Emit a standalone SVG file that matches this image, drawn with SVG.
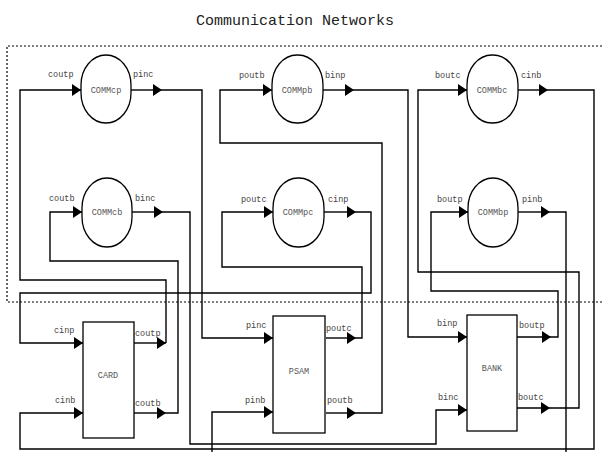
<svg xmlns="http://www.w3.org/2000/svg" width="602" height="452" viewBox="0 0 602 452">
<style>
.bg{fill:#fff}
.title{font-family:"Liberation Mono","DejaVu Sans Mono",monospace;font-size:15px;fill:#222}
.lbl{font-family:"Liberation Mono","DejaVu Sans Mono",monospace;font-size:8.5px;fill:#444}
.nm{font-family:"Liberation Mono","DejaVu Sans Mono",monospace;font-size:8.5px;fill:#555;text-anchor:middle}
.shape{fill:#fff;stroke:#000;stroke-width:1.3}
.w{fill:none;stroke:#000;stroke-width:1.4}
.a{fill:none;stroke:#000;stroke-width:1.4;marker-end:url(#ah)}
.frame{fill:none;stroke:#000;stroke-width:1.2;stroke-dasharray:2,2}
</style>
<defs>
<marker id="ah" markerUnits="userSpaceOnUse" markerWidth="10" markerHeight="12" viewBox="0 0 10 12" refX="9" refY="6" orient="auto">
<path d="M0,0 L9,6 L0,12 Z" fill="#000"/>
</marker>
</defs>
<rect class="bg" width="602" height="452"/>
<text class="title" x="295" y="25" text-anchor="middle">Communication Networks</text>
<path class="frame" d="M602,46 H7 V302 H602"/>

<g id="connectors">
<!-- CARD coutp -> COMMcp -->
<path class="a" d="M134,343 H166"/>
<path class="a" d="M166,343 V280 H20 V90 H81"/>
<!-- COMMcp pinc -> PSAM -->
<path class="a" d="M131,90 H162"/>
<path class="a" d="M162,90 H202 V338 H273"/>
<!-- CARD coutb -> COMMcb -->
<path class="a" d="M134,413 H166"/>
<path class="a" d="M166,413 H178 V261 H50 V212 H82"/>
<!-- COMMcb binc -> BANK -->
<path class="a" d="M132,212 H163"/>
<path class="a" d="M163,212 H190 V444 H436 V410 H467"/>
<!-- PSAM poutb -> COMMpb -->
<path class="a" d="M326,413 H356"/>
<path class="a" d="M356,413 H382 V143 H220 V90 H272"/>
<!-- COMMpb binp -> BANK -->
<path class="a" d="M323,90 H354"/>
<path class="a" d="M354,90 H408 V337 H467"/>
<!-- BANK boutc -> COMMbc -->
<path class="a" d="M517,408 H550"/>
<path class="a" d="M550,408 H579 V272 H418 V90 H467"/>
<!-- COMMbc cinb -> CARD -->
<path class="a" d="M518,90 H548"/>
<path class="a" d="M548,90 H594 V449 H20 V413 H83"/>
<!-- PSAM poutc -> COMMpc -->
<path class="a" d="M326,338 H356"/>
<path class="a" d="M356,338 H362 V267 H222 V212 H273"/>
<!-- COMMpc cinp -> CARD -->
<path class="a" d="M324,212 H356"/>
<path class="a" d="M356,212 H371 V293 H20 V343 H83"/>
<!-- BANK boutp -> COMMbp -->
<path class="a" d="M517,337 H551"/>
<path class="a" d="M551,337 H558 V291 H431 V212 H468"/>
<!-- COMMbp pinb -> PSAM -->
<path class="a" d="M518,212 H550"/>
<path class="a" d="M550,212 H566 V470 H212 V412 H273"/>
</g>

<g id="COMMcp">
<rect class="shape" x="81" y="55" width="50" height="68" rx="25" ry="30"/>
<text class="nm" x="106" y="93">COMMcp</text>
<text class="lbl" x="48" y="77">coutp</text>
<text class="lbl" x="133" y="77">pinc</text>
</g>
<g id="COMMpb">
<rect class="shape" x="272" y="55" width="51" height="68" rx="25" ry="30"/>
<text class="nm" x="297" y="93">COMMpb</text>
<text class="lbl" x="239" y="78">poutb</text>
<text class="lbl" x="325" y="78">binp</text>
</g>
<g id="COMMbc">
<rect class="shape" x="467" y="55" width="51" height="68" rx="25" ry="30"/>
<text class="nm" x="492" y="93">COMMbc</text>
<text class="lbl" x="435" y="78">boutc</text>
<text class="lbl" x="521" y="78">cinb</text>
</g>
<g id="COMMcb">
<rect class="shape" x="82" y="178" width="50" height="69" rx="25" ry="30"/>
<text class="nm" x="107" y="215">COMMcb</text>
<text class="lbl" x="49" y="201">coutb</text>
<text class="lbl" x="135" y="201">binc</text>
</g>
<g id="COMMpc">
<rect class="shape" x="273" y="178" width="51" height="69" rx="25" ry="30"/>
<text class="nm" x="298" y="215">COMMpc</text>
<text class="lbl" x="241" y="202">poutc</text>
<text class="lbl" x="328" y="202">cinp</text>
</g>
<g id="COMMbp">
<rect class="shape" x="468" y="178" width="50" height="69" rx="25" ry="30"/>
<text class="nm" x="493" y="215">COMMbp</text>
<text class="lbl" x="437" y="202">boutp</text>
<text class="lbl" x="522" y="202">pinb</text>
</g>
<g id="CARD">
<rect class="shape" x="83" y="322" width="51" height="116"/>
<text class="nm" x="108" y="378">CARD</text>
<text class="lbl" x="54" y="333">cinp</text>
<text class="lbl" x="135" y="336">coutp</text>
<text class="lbl" x="55" y="403">cinb</text>
<text class="lbl" x="135" y="406">coutb</text>
</g>
<g id="PSAM">
<rect class="shape" x="273" y="316" width="52" height="117"/>
<text class="nm" x="299" y="374">PSAM</text>
<text class="lbl" x="246" y="328">pinc</text>
<text class="lbl" x="326" y="331">poutc</text>
<text class="lbl" x="245" y="403">pinb</text>
<text class="lbl" x="327" y="403">poutb</text>
</g>
<g id="BANK">
<rect class="shape" x="467" y="315" width="50" height="116"/>
<text class="nm" x="492" y="371">BANK</text>
<text class="lbl" x="437" y="326">binp</text>
<text class="lbl" x="519" y="328">boutp</text>
<text class="lbl" x="438" y="400">binc</text>
<text class="lbl" x="518" y="400">boutc</text>
</g>
</svg>
